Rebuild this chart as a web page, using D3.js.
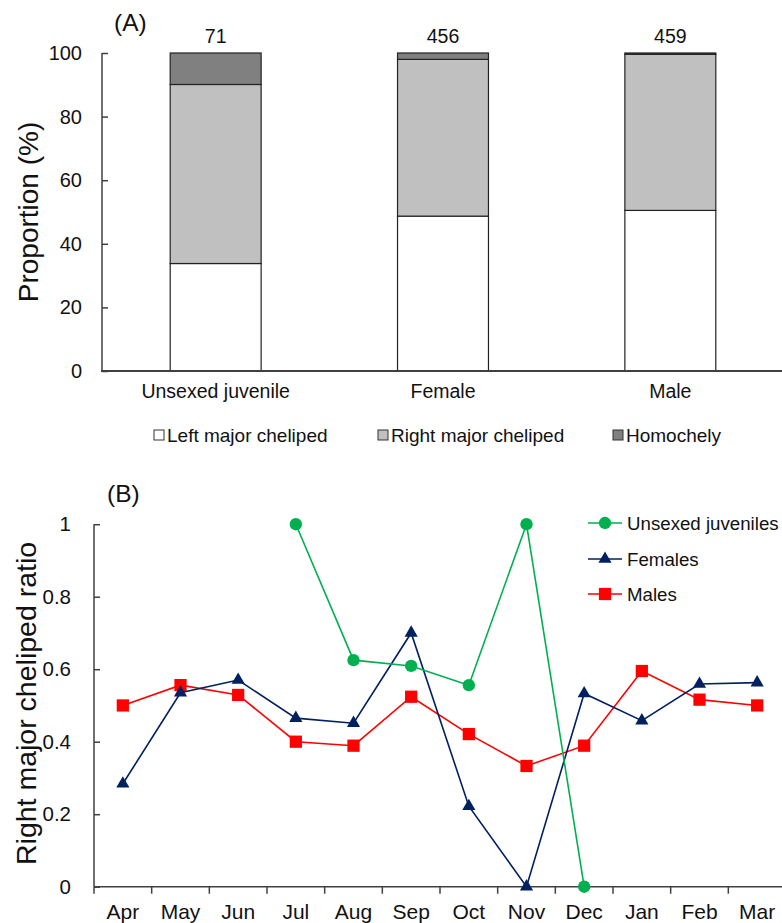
<!DOCTYPE html>
<html><head><meta charset="utf-8">
<script src="https://cdn.jsdelivr.net/npm/d3@7"></script>
<style>body{margin:0;background:#fff}svg{display:block;font-family:"Liberation Sans",Arial,sans-serif}</style>
</head><body>
<script>
// Panel A data
const groups = ["Unsexed juvenile", "Female", "Male"];
const totals = [71, 456, 459];
const leftMajor = [33.8, 48.7, 50.5];
const rightMajor = [56.3, 49.3, 49.1];
const homochely = [9.9, 2.0, 0.4];
const yTicksA = [0, 20, 40, 60, 80, 100];
const legendA = ["Left major cheliped", "Right major cheliped", "Homochely"];
const colorsA = ["#ffffff", "#c0c0c0", "#808080"];

// Panel B data
const months = ["Apr","May","Jun","Jul","Aug","Sep","Oct","Nov","Dec","Jan","Feb","Mar"];
const juveniles = [null,null,null,1.0,0.625,0.609,0.556,1.0,0.0,null,null,null];
const females = [0.284,0.535,0.570,0.465,0.451,0.700,0.222,0.0,0.533,0.458,0.559,0.563];
const males = [0.500,0.556,0.529,0.400,0.389,0.524,0.421,0.333,0.389,0.595,0.516,0.500];
const yTicksB = [0, 0.2, 0.4, 0.6, 0.8, 1];

const W = 782, H = 923;
const FONT = "Liberation Sans, Arial, sans-serif";
const svg = d3.select("body").append("svg").attr("width", W).attr("height", H);
const axisCol = "#404040";

// ---------- Panel A ----------
const xA = d3.scaleBand().domain(groups).range([102, 784]).paddingInner(0.6).paddingOuter(0.3);
const yA = d3.scaleLinear().domain([0, 100]).range([371, 53]);
const stackData = groups.map((g, i) => ({g, l: leftMajor[i], r: rightMajor[i], h: homochely[i]}));
const stack = d3.stack().keys(["l", "r", "h"])(stackData);
const gA = svg.append("g");
stack.forEach((layer, k) => {
  gA.selectAll(null).data(layer).enter().append("rect")
    .attr("x", d => xA(d.data.g))
    .attr("width", xA.bandwidth())
    .attr("y", d => yA(d[1]))
    .attr("height", d => yA(d[0]) - yA(d[1]))
    .attr("fill", colorsA[k])
    .attr("stroke", "#222").attr("stroke-width", 1.2);
});
gA.selectAll(null).data(groups).enter().append("text")
  .attr("x", d => xA(d) + xA.bandwidth() / 2)
  .attr("y", 43).attr("text-anchor", "middle").attr("font-size", 19.5).attr("fill", "#111")
  .text((d, i) => totals[i]);

const yAxA = svg.append("g").attr("transform", "translate(102,0)")
  .call(d3.axisLeft(yA).tickValues(yTicksA).tickSize(-6).tickPadding(20));
yAxA.select(".domain").attr("stroke", axisCol).attr("stroke-width", 1.5).attr("d", `M-0,${yA(100)}V${yA(0)}`);
yAxA.selectAll(".tick line").attr("stroke", axisCol).attr("stroke-width", 1.5);
yAxA.selectAll("text").attr("font-size", 20).attr("fill", "#111").attr("font-family", FONT);

const xAxA = svg.append("g").attr("transform", "translate(0,371)")
  .call(d3.axisBottom(xA).tickSize(0).tickPadding(13));
xAxA.select(".domain").attr("stroke", axisCol).attr("stroke-width", 2).attr("d", "M101,0H782");
xAxA.selectAll("text").attr("font-size", 19.5).attr("fill", "#111").attr("font-family", FONT);

svg.append("text").attr("transform", "translate(38,212) rotate(-90)")
  .attr("text-anchor", "middle").attr("font-size", 28).attr("fill", "#111").text("Proportion (%)");
svg.append("text").attr("x", 114).attr("y", 31).attr("font-size", 24.5).attr("fill", "#111").text("(A)");

const legXA = [154, 378, 613];
legendA.forEach((t, i) => {
  svg.append("rect").attr("x", legXA[i]).attr("y", 430).attr("width", 10).attr("height", 10)
    .attr("fill", colorsA[i]).attr("stroke", "#333").attr("stroke-width", 1);
  svg.append("text").attr("x", legXA[i] + 13).attr("y", 442).attr("font-size", 19).attr("fill", "#111").text(t);
});

// ---------- Panel B ----------
const xB = d3.scaleBand().domain(months).range([94, 786]);
const yB = d3.scaleLinear().domain([0, 1]).range([886.7, 524.2]);

const yAxB = svg.append("g").attr("transform", "translate(94,0)")
  .call(d3.axisLeft(yB).tickValues(yTicksB).tickSize(-6).tickPadding(23).tickFormat(d3.format("~g")));
yAxB.select(".domain").attr("stroke", axisCol).attr("stroke-width", 1.5).attr("d", `M0,${yB(1)}V${yB(0)}`);
yAxB.selectAll(".tick line").attr("stroke", axisCol).attr("stroke-width", 1.5);
yAxB.selectAll("text").attr("font-size", 20.5).attr("fill", "#111").attr("font-family", FONT);

const xAxB = svg.append("g").attr("transform", `translate(0,${yB(0)})`)
  .call(d3.axisBottom(xB).tickSize(0).tickPadding(17));
xAxB.select(".domain").attr("stroke", axisCol).attr("stroke-width", 1.5).attr("d", "M94,0H782");
xAxB.selectAll("text").attr("font-size", 21).attr("fill", "#111").attr("font-family", FONT);
xAxB.selectAll(null).data(months).enter().append("line")
  .attr("x1", d => xB(d)).attr("x2", d => xB(d)).attr("y1", 0).attr("y2", 7)
  .attr("stroke", axisCol).attr("stroke-width", 1.5);

svg.append("text").attr("transform", `translate(36,${(yB(0) + yB(1)) / 2 - 2}) rotate(-90)`)
  .attr("text-anchor", "middle").attr("font-size", 28.5).attr("fill", "#111").text("Right major cheliped ratio");
svg.append("text").attr("x", 107).attr("y", 502).attr("font-size", 24.5).attr("fill", "#111").text("(B)");

const cx = (d, i) => xB(months[i]) + xB.bandwidth() / 2;
const series = [
  {name: "Unsexed juveniles", vals: juveniles, color: "#00b050", sym: d3.symbolCircle, size: 120},
  {name: "Females", vals: females, color: "#002060", sym: d3.symbolTriangle, size: 75},
  {name: "Males", vals: males, color: "#ff0000", sym: d3.symbolSquare, size: 150}
];
const line = d3.line().defined(d => d != null).x(cx).y(d => yB(d));
[series[2], series[1], series[0]].forEach(s => {
  svg.append("path").attr("d", line(s.vals)).attr("fill", "none")
    .attr("stroke", s.color).attr("stroke-width", 1.6);
  svg.selectAll(null).data(s.vals.map((v, i) => ({v, i})).filter(d => d.v != null)).enter()
    .append("path")
    .attr("d", d3.symbol().type(s.sym).size(s.size))
    .attr("transform", d => `translate(${cx(null, d.i)},${yB(d.v)})`)
    .attr("fill", s.color);
});

const legYB = [523, 559, 594];
series.forEach((s, i) => {
  svg.append("line").attr("x1", 588).attr("x2", 622).attr("y1", legYB[i]).attr("y2", legYB[i])
    .attr("stroke", s.color).attr("stroke-width", 1.6);
  svg.append("path").attr("d", d3.symbol().type(s.sym).size(s.size))
    .attr("transform", `translate(605,${legYB[i]})`).attr("fill", s.color);
  svg.append("text").attr("x", 627).attr("y", legYB[i] + 7).attr("font-size", 18.7).attr("fill", "#111").text(s.name);
});
</script>
</body></html>
